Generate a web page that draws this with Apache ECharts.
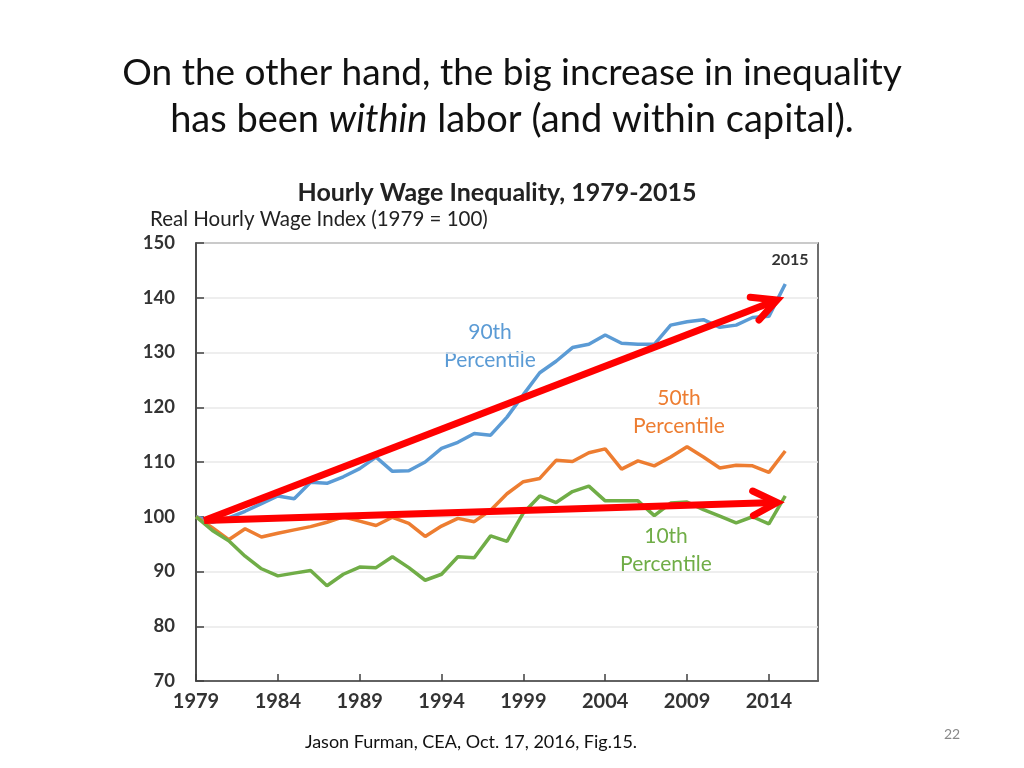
<!DOCTYPE html>
<html>
<head>
<meta charset="utf-8">
<script src="https://cdn.jsdelivr.net/npm/echarts@6/dist/echarts.min.js"></script>
<style>
html,body{margin:0;padding:0;background:#fff;}
#chart{width:1024px;height:768px;}
</style>
</head>
<body>
<div id="chart"></div>
<script>
const years = [1979,1980,1981,1982,1983,1984,1985,1986,1987,1988,1989,1990,1991,1992,1993,1994,1995,1996,1997,1998,1999,2000,2001,2002,2003,2004,2005,2006,2007,2008,2009,2010,2011,2012,2013,2014,2015];
const p90 = [100,99.0,99.8,101.0,102.4,103.8,103.3,106.3,106.1,107.3,108.8,110.9,108.3,108.4,110.0,112.5,113.6,115.2,114.9,118.2,122.3,126.3,128.4,130.9,131.5,133.2,131.7,131.5,131.5,135.0,135.6,136.0,134.6,135.0,136.4,136.6,142.5];
const p50 = [100,98.0,95.8,97.8,96.3,97.0,97.6,98.2,99.0,100.0,99.2,98.4,99.9,98.8,96.4,98.3,99.7,99.1,101.2,104.2,106.4,107.0,110.3,110.1,111.7,112.4,108.7,110.2,109.3,110.9,112.8,110.9,108.9,109.4,109.3,108.1,112.0];
const p10 = [100,97.5,95.6,92.8,90.5,89.2,89.7,90.2,87.4,89.5,90.8,90.7,92.7,90.7,88.4,89.5,92.7,92.5,96.5,95.5,100.7,103.8,102.6,104.6,105.6,102.9,102.9,102.9,100.2,102.5,102.7,101.3,100.1,98.9,100.0,98.7,103.8];
const xTickLabels = [1979,1984,1989,1994,1999,2004,2009,2014];
const arrowStart = [1979.5, 99.3];
const arrowEnds = [[2014.5, 139.6],[2014.5, 102.6]];
const baseline = 100;

const pair = arr => years.map((y,i)=>[y,arr[i]]);

function renderArrow(params, api) {
  const p0 = api.coord([api.value(0), api.value(1)]);
  const p1 = api.coord([api.value(2), api.value(3)]);
  const dx = p1[0]-p0[0], dy = p1[1]-p0[1];
  const len = Math.sqrt(dx*dx+dy*dy);
  const ux = -dx/len, uy = -dy/len;
  const L = 27, a = 27*Math.PI/180;
  const rot = (ang) => [p1[0] + L*(ux*Math.cos(ang) - uy*Math.sin(ang)), p1[1] + L*(ux*Math.sin(ang) + uy*Math.cos(ang))];
  const arm1 = rot(a), arm2 = rot(-a);
  const style = {stroke:'#ff0000', lineWidth:7, fill:null, lineCap:'round', lineJoin:'miter'};
  return {type:'group', children:[
    {type:'line', shape:{x1:p0[0], y1:p0[1], x2:p1[0]+ux*2, y2:p1[1]+uy*2}, style:Object.assign({}, style, {lineCap:'butt'})},
    {type:'polyline', shape:{points:[arm1, p1, arm2]}, style:style}
  ]};
}

const chart = echarts.init(document.getElementById('chart'));
const lineBase = {type:'line', showSymbol:false, symbol:'none', smooth:false, animation:false, silent:true};
chart.setOption({
  animation:false,
  backgroundColor:'#ffffff',
  textStyle:{fontFamily:'Lato, "Open Sans", sans-serif'},
  title:[
    {text:'Hourly Wage Inequality, 1979-2015', left:492, top:175, textAlign:'center',
     textStyle:{fontSize:25, fontWeight:'bold', color:'#222', fontFamily:'Lato, sans-serif'}},
    {text:'Real Hourly Wage Index (1979 = 100)', left:145, top:204,
     textStyle:{fontSize:20.5, fontWeight:'normal', color:'#222', fontFamily:'Lato, sans-serif'}}
  ],
  grid:{left:196, right:206, top:243, bottom:87, show:true, borderColor:'#404040', borderWidth:1.5, backgroundColor:'transparent'},
  xAxis:{type:'value', min:1979, max:2017,
    axisLine:{show:true, lineStyle:{color:'#404040', width:1.5}},
    axisTick:{show:true, inside:true, length:7, customValues:xTickLabels, lineStyle:{color:'#404040', width:1.5}},
    axisLabel:{customValues:xTickLabels, margin:11, fontSize:20, fontWeight:'bold', color:'#333', formatter:v=>String(v)},
    splitLine:{show:false}},
  yAxis:{type:'value', min:70, max:150, interval:10,
    axisLine:{show:true, lineStyle:{color:'#404040', width:1.5}},
    axisTick:{show:true, inside:true, length:8, lineStyle:{color:'#404040', width:1.5}},
    axisLabel:{margin:21, fontSize:18.5, fontWeight:'bold', color:'#333'},
    splitLine:{show:true, lineStyle:{color:'#e8e8e8', width:1.5}}},
  series:[
    Object.assign({}, lineBase, {name:'90th', data:pair(p90), lineStyle:{color:'#5B9BD5', width:3.5}, z:3}),
    Object.assign({}, lineBase, {name:'50th', data:pair(p50), lineStyle:{color:'#ED7D31', width:3.5}, z:3}),
    Object.assign({}, lineBase, {name:'10th', data:pair(p10), lineStyle:{color:'#70AD47', width:3.5}, z:3,
      markLine:{silent:true, symbol:['none','none'], label:{show:false}, animation:false, z:2,
        lineStyle:{color:'#111', width:1.5, type:'solid'},
        data:[[{coord:[1979, baseline]},{coord:[2017.2, baseline]}]]}}),
    {type:'custom', name:'arrows', silent:true, animation:false, z:10, clip:false,
      renderItem:renderArrow,
      encode:{x:[0,2], y:[1,3]},
      data:arrowEnds.map(e=>[arrowStart[0], arrowStart[1], e[0], e[1]])}
  ],
  graphic:[
    {type:'text', left:'center', top:55, style:{
      text:'On the other hand, the big increase in inequality', font:'37px Lato, sans-serif', fill:'#111', textAlign:'center'}},
    {type:'text', left:'center', top:101, style:{
      rich:{n:{font:'38px Lato, sans-serif', fill:'#111'}, i:{font:'italic 38px Lato, sans-serif', fill:'#111'}},
      text:'{n|has been }{i|within}{n| labor (and within capital).}', fill:'#111'}},
    {type:'text', x:490, y:318, style:{text:'90th\nPercentile', font:'21px Lato, sans-serif', fill:'#5B9BD5', textAlign:'center', lineHeight:28}},
    {type:'text', x:679, y:384, style:{text:'50th\nPercentile', font:'21px Lato, sans-serif', fill:'#ED7D31', textAlign:'center', lineHeight:28}},
    {type:'text', x:666, y:522, style:{text:'10th\nPercentile', font:'21px Lato, sans-serif', fill:'#70AD47', textAlign:'center', lineHeight:28}},
    {type:'text', x:790, y:252, style:{text:'2015', font:'bold 16px Lato, sans-serif', fill:'#333', textAlign:'center'}},
    {type:'text', x:471, y:733, style:{text:'Jason Furman, CEA, Oct. 17, 2016, Fig.15.', font:'18px Lato, sans-serif', fill:'#111', textAlign:'center'}},
    {type:'text', x:952, y:727, style:{text:'22', font:'14px Lato, sans-serif', fill:'#888', textAlign:'center'}}
  ]
});
</script>
</body>
</html>
